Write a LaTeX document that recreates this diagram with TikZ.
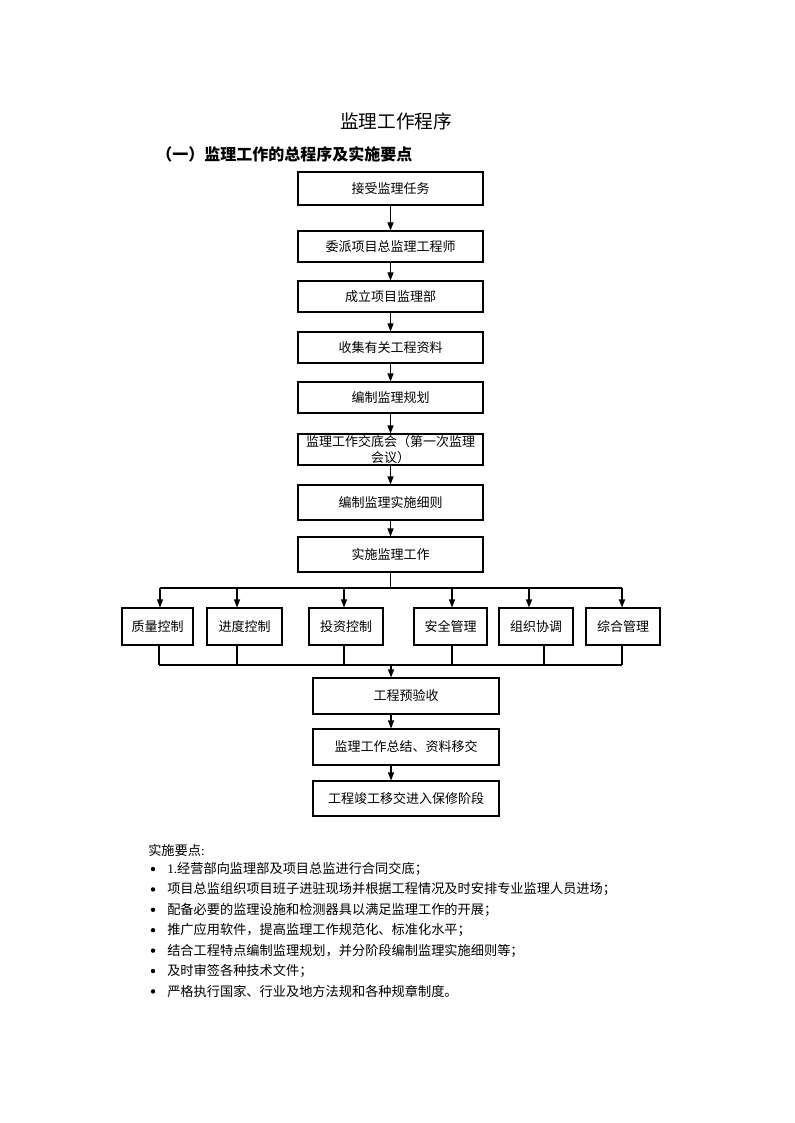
\documentclass[tikz,border=0pt]{standalone}
\usepackage{fontspec}
\setmainfont{Noto Sans CJK SC}
\newfontfamily\latin{Liberation Serif}
\usetikzlibrary{arrows.meta}
\begin{document}
\begin{tikzpicture}[x=0.75pt,y=-0.75pt,
  box/.style={draw, line width=0.8pt, inner sep=0pt, align=center,
    font=\fontsize{9.75}{12.5}\selectfont},
  wh/.style 2 args={minimum width=#1*0.75pt, minimum height=#2*0.75pt},
  arr/.style={-{Triangle[length=6pt,width=4.5pt]}, line width=0.8pt},
  ln/.style={line width=0.8pt},
  txt/.style={anchor=west, inner sep=0pt, font=\fontsize{9.9}{12}\selectfont}]
\useasboundingbox (0,0) rectangle (794,1123);

% titles
\node (title) at (396,121) {\fontsize{14}{16}\selectfont 监理工作程序};
\node[anchor=west, inner sep=0pt] (head) at (156,154) {\bfseries\fontsize{12}{14}\selectfont （一）监理工作的总程序及实施要点};

% main column
\node[box, wh={185}{33}] (b1) at (390.5,188.5) {接受监理任务};
\node[box, wh={185}{31}] (b2) at (390.5,246.5) {委派项目总监理工程师};
\node[box, wh={185}{31}] (b3) at (390.5,296.5) {成立项目监理部};
\node[box, wh={185}{31}] (b4) at (390.5,347.5) {收集有关工程资料};
\node[box, wh={185}{31}] (b5) at (390.5,397.5) {编制监理规划};
\node[box, wh={185}{31}, font=\fontsize{9.75}{11.5}\selectfont] (b6) at (390.5,449.5) {监理工作交底会（第一次监理\\会议）};
\node[box, wh={185}{35}] (b7) at (390.5,502.5) {编制监理实施细则};
\node[box, wh={185}{35}] (b8) at (390.5,554.5) {实施监理工作};

\draw[arr] (b1.south) -- (b2.north);
\draw[arr] (b2.south) -- (b3.north);
\draw[arr] (b3.south) -- (b4.north);
\draw[arr] (b4.south) -- (b5.north);
\draw[arr] (b5.south) -- (b6.north);
\draw[arr] (b6.south) -- (b7.north);
\draw[arr] (b7.south) -- (b8.north);

% six control boxes
\node[box, wh={71}{37}] (q) at (157.5,626.5) {质量控制};
\node[box, wh={75}{37}] (j) at (244.5,626.5) {进度控制};
\node[box, wh={74}{37}] (t) at (346,626.5) {投资控制};
\node[box, wh={73}{37}] (a) at (450.5,626.5) {安全管理};
\node[box, wh={74}{37}] (z) at (536,626.5) {组织协调};
\node[box, wh={74}{37}] (s) at (623,626.5) {综合管理};

% branch
\coordinate (br) at (390.5,588);
\coordinate (qa) at (160,588);
\coordinate (ja) at (237,588);
\coordinate (ta) at (344,588);
\coordinate (aa) at (452,588);
\coordinate (za) at (529,588);
\coordinate (sa) at (622,588);
\draw[ln] (b8.south) -- (br);
\draw[ln] (qa) -- (sa);
\draw[arr] (qa) -- (qa |- q.north);
\draw[arr] (ja) -- (ja |- j.north);
\draw[arr] (ta) -- (ta |- t.north);
\draw[arr] (aa) -- (aa |- a.north);
\draw[arr] (za) -- (za |- z.north);
\draw[arr] (sa) -- (sa |- s.north);

% join
\coordinate (qb) at (159,665);
\coordinate (jb) at (237,665);
\coordinate (tb) at (344,665);
\coordinate (ab) at (452,665);
\coordinate (zb) at (544,665);
\coordinate (sb) at (622,665);
\coordinate (jn) at (391,665);
\draw[ln] (qb |- q.south) -- (qb);
\draw[ln] (jb |- j.south) -- (jb);
\draw[ln] (tb |- t.south) -- (tb);
\draw[ln] (ab |- a.south) -- (ab);
\draw[ln] (zb |- z.south) -- (zb);
\draw[ln] (sb |- s.south) -- (sb);
\draw[ln] (qb) -- (sb);

% lower column
\node[box, wh={186}{36}] (p1) at (406,696) {工程预验收};
\node[box, wh={186}{36}] (p2) at (406,747) {监理工作总结、资料移交};
\node[box, wh={186}{35}] (p3) at (406,798.5) {工程竣工移交进入保修阶段};

\draw[arr] (jn) -- (jn |- p1.north);
\draw[arr] (p1.south -| jn) -- (p2.north -| jn);
\draw[arr] (p2.south -| jn) -- (p3.north -| jn);

% notes
\node[txt] (n0) at (148,850) {实施要点{\latin :}};
\foreach \k/\t in {1/{{\latin 1.}经营部向监理部及项目总监进行合同交底；},
  2/{项目总监组织项目班子进驻现场并根据工程情况及时安排专业监理人员进场；},
  3/{配备必要的监理设施和检测器具以满足监理工作的开展；},
  4/{推广应用软件，提高监理工作规范化、标准化水平；},
  5/{结合工程特点编制监理规划，并分阶段编制监理实施细则等；},
  6/{及时审签各种技术文件；},
  7/{严格执行国家、行业及地方法规和各种规章制度。}}{
  \fill (153,{869+20.4*(\k-1)}) circle (2.2);
  \node[txt] (n\k) at (167,{869+20.4*(\k-1)}) {\t};
}
\end{tikzpicture}
\end{document}
